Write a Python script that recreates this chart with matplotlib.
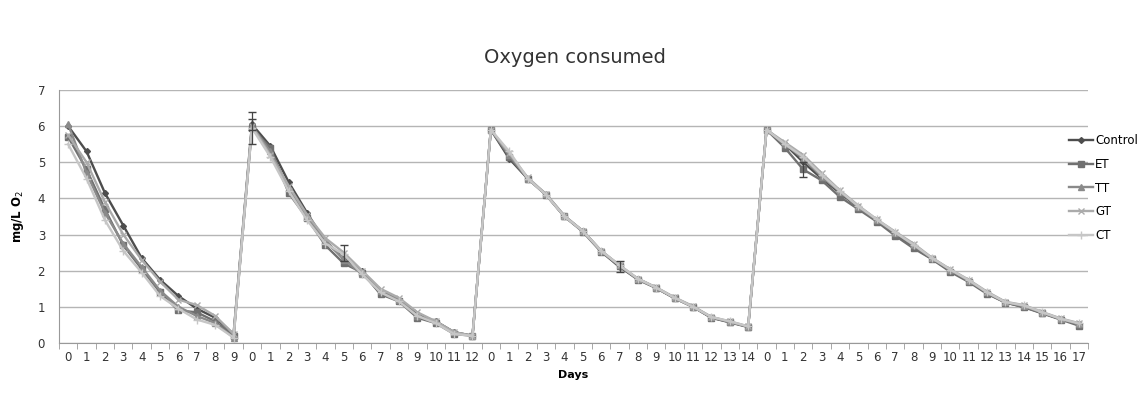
import numpy as np
import matplotlib
matplotlib.use("Agg")
import matplotlib.pyplot as plt

# day labels of the four runs
day_labels = list(range(10)) + list(range(13)) + list(range(15)) + list(range(18))

control = [6.0, 5.3, 4.15, 3.25, 2.35, 1.75, 1.3, 0.95, 0.7, 0.25,
           6.05, 5.45, 4.45, 3.6, 2.8, 2.35, 2.0, 1.35, 1.2, 0.8, 0.6, 0.3, 0.2,
           5.9, 5.1, 4.55, 4.1, 3.5, 3.1, 2.55, 2.1, 1.78, 1.52, 1.24, 1.0, 0.7, 0.58, 0.45,
           5.9, 5.5, 5.0, 4.55, 4.15, 3.75, 3.4, 3.02, 2.65, 2.33, 2.0, 1.72, 1.38, 1.12, 1.0, 0.83, 0.66, 0.52]
et = [5.7, 4.8, 3.7, 2.7, 2.05, 1.4, 0.9, 0.85, 0.6, 0.2,
      5.95, 5.4, 4.15, 3.45, 2.7, 2.2, 1.95, 1.35, 1.15, 0.7, 0.55, 0.25, 0.2,
      5.9, 5.15, 4.55, 4.1, 3.5, 3.08, 2.52, 2.12, 1.75, 1.52, 1.24, 1.0, 0.7, 0.57, 0.44,
      5.9, 5.4, 4.8, 4.5, 4.04, 3.7, 3.36, 2.97, 2.62, 2.32, 1.97, 1.69, 1.36, 1.12, 0.99, 0.82, 0.65, 0.48]
tt = [6.05, 4.7, 3.6, 2.75, 2.1, 1.45, 1.0, 0.75, 0.55, 0.15,
      6.0, 5.3, 4.3, 3.5, 2.85, 2.3, 1.9, 1.45, 1.2, 0.75, 0.6, 0.3, 0.2,
      5.9, 5.2, 4.55, 4.12, 3.52, 3.1, 2.55, 2.15, 1.76, 1.53, 1.25, 1.0, 0.72, 0.58, 0.45,
      5.9, 5.5, 5.1, 4.6, 4.18, 3.76, 3.4, 3.05, 2.7, 2.35, 2.02, 1.72, 1.4, 1.13, 1.02, 0.84, 0.67, 0.52]
gt = [5.75, 5.0, 3.9, 3.0, 2.3, 1.7, 1.2, 1.05, 0.75, 0.25,
      6.0, 5.2, 4.35, 3.55, 2.9, 2.5, 2.0, 1.5, 1.25, 0.85, 0.6, 0.3, 0.2,
      5.9, 5.25, 4.58, 4.12, 3.52, 3.1, 2.55, 2.15, 1.78, 1.54, 1.26, 1.02, 0.72, 0.6, 0.46,
      5.9, 5.55, 5.2, 4.7, 4.22, 3.8, 3.42, 3.08, 2.75, 2.36, 2.04, 1.75, 1.42, 1.14, 1.05, 0.86, 0.68, 0.55]
ct = [5.5, 4.55, 3.4, 2.55, 1.95, 1.3, 0.95, 0.65, 0.5, 0.15,
      5.95, 5.15, 4.2, 3.4, 2.75, 2.45, 1.9, 1.4, 1.15, 0.75, 0.55, 0.25, 0.2,
      5.9, 5.3, 4.55, 4.1, 3.5, 3.1, 2.55, 2.15, 1.78, 1.53, 1.25, 1.0, 0.72, 0.6, 0.46,
      5.9, 5.5, 5.15, 4.65, 4.2, 3.78, 3.42, 3.06, 2.72, 2.35, 2.03, 1.74, 1.4, 1.13, 1.04, 0.85, 0.67, 0.54]

# a few visible error bars: (series, index, error)
err_points = [("Control", 10, 0.15), ("ET", 10, 0.45), ("GT", 15, 0.22),
              ("ET", 30, 0.15), ("ET", 40, 0.2)]

series = {"Control": control, "ET": et, "TT": tt, "GT": gt, "CT": ct}
colors = {"Control": "#4d4d4d", "ET": "#707070", "TT": "#8a8a8a", "GT": "#ababab", "CT": "#c6c6c6"}
markers = {"Control": "D", "ET": "s", "TT": "^", "GT": "x", "CT": "+"}
msizes = {"Control": 3, "ET": 4.5, "TT": 4, "GT": 5, "CT": 6}

fig = plt.figure(figsize=(11.43, 3.96), dpi=100)
ax = fig.add_axes([0.0516, 0.1338, 0.9004, 0.639])

x = np.arange(len(day_labels))
for name, vals in series.items():
    ax.plot(x, vals, color=colors[name], marker=markers[name], markersize=msizes[name],
            linewidth=1.7, label=name, markeredgewidth=1)

for name, idx, e in err_points:
    ax.errorbar(idx, series[name][idx], yerr=e, color="#444444", linewidth=0.9,
                capsize=3, fmt="none")

ax.set_xlim(-0.5, len(day_labels) - 0.5)
ax.set_ylim(0, 7)
ax.set_yticks(range(8))
ax.yaxis.grid(True, color="#b5b5b5", linewidth=1)
ax.set_axisbelow(True)
ax.set_xticks(x)
ax.set_xticklabels([str(d) for d in day_labels], fontsize=8.5, color="#333333")
ax.set_xticks(np.arange(-0.5, len(day_labels)), minor=True)
ax.tick_params(axis="x", which="major", length=0, pad=6)
ax.tick_params(axis="x", which="minor", length=4, color="#999999")
ax.tick_params(axis="y", length=0, labelsize=8.5, labelcolor="#333333", pad=10)
for s in ["top", "right"]:
    ax.spines[s].set_visible(False)
for s in ["left", "bottom"]:
    ax.spines[s].set_color("#999999")

ax.set_xlabel("Days", fontsize=8, fontweight="bold", labelpad=4)
ax.set_ylabel("mg/L O$_2$", fontsize=8.5, fontweight="bold", labelpad=8)
fig.text(0.503, 0.855, "Oxygen consumed", ha="center", va="center", fontsize=14, color="#333333")

fig.legend(loc="center left", bbox_to_anchor=(0.928, 0.525), frameon=False,
           fontsize=8.5, handlelength=2.0, labelspacing=0.9, handletextpad=0.2,
           borderpad=0.2)

fig.savefig("out.png", dpi=100)
